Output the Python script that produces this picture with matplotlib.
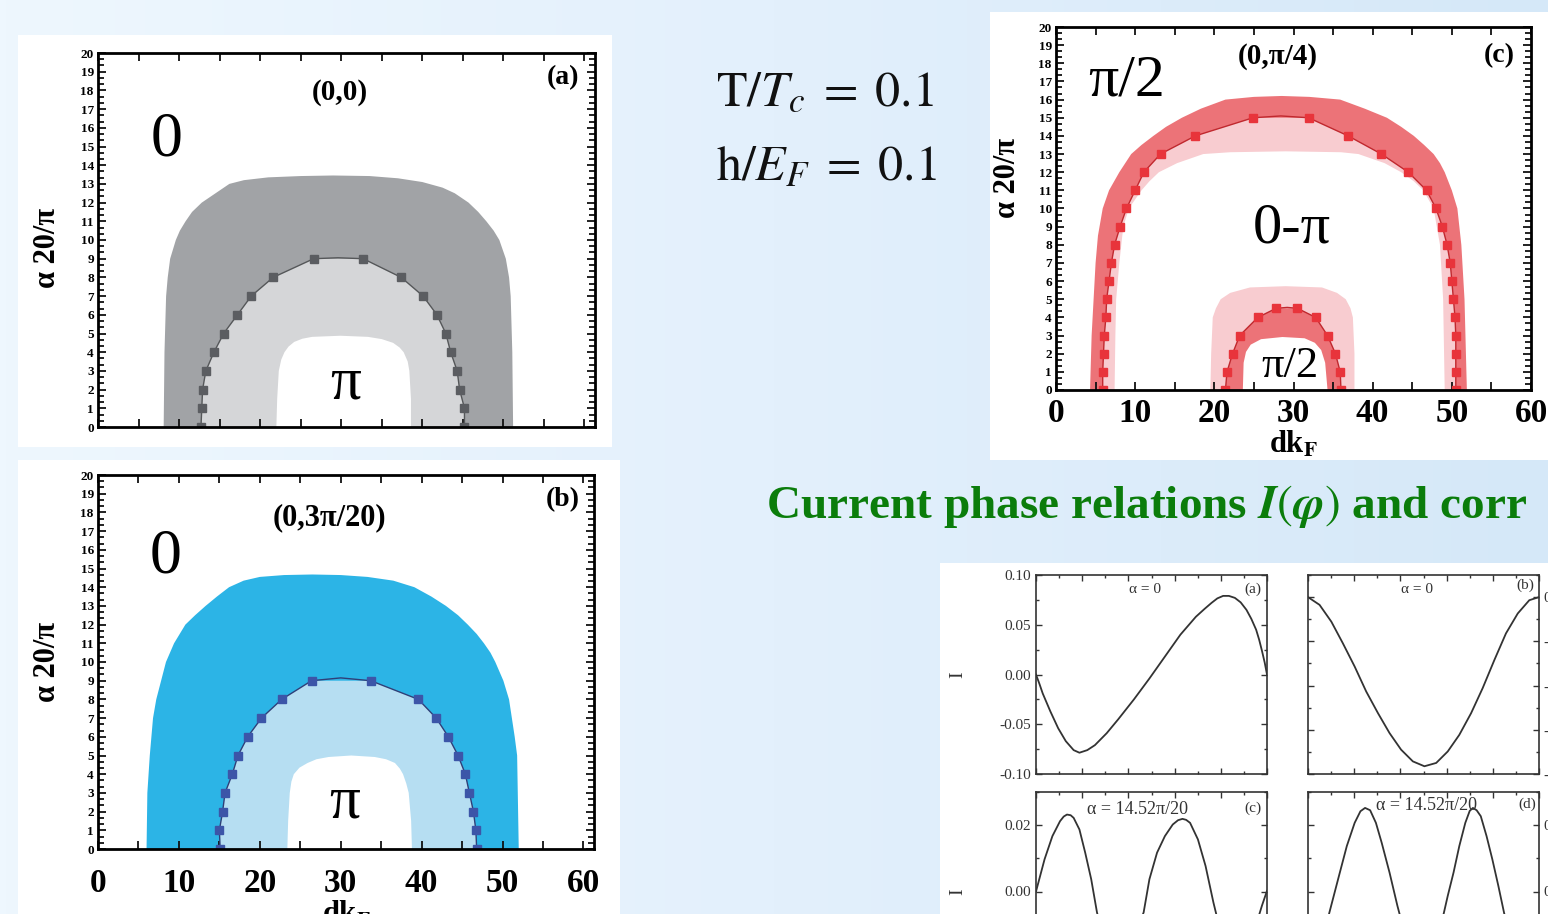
import numpy as np
import matplotlib
matplotlib.use("Agg")
from matplotlib import pyplot as plt
from matplotlib.patches import Rectangle
from matplotlib.colors import LinearSegmentedColormap
from matplotlib.ticker import MultipleLocator, FormatStrFormatter

plt.rcParams['font.family'] = ['Liberation Serif', 'DejaVu Serif']
plt.rcParams['mathtext.fontset'] = 'stix'

W, H = 1548, 914

# ---------------- phase diagram (a): (0,0) ----------------
a_outer_x = [8.1, 8.2, 8.4, 8.6, 8.9, 9.6, 10.1, 10.8, 11.6, 12.8, 14.5, 16.2, 18.0, 21.0, 25.0, 29.0,
             33.5, 37.0, 40.0, 42.5, 44.0, 45.7, 46.9, 47.9, 48.8, 49.5, 50.3, 50.7, 50.9, 51.1, 51.2]
a_outer_y = [0, 4, 7, 8, 9, 10, 10.5, 11, 11.5, 12, 12.5, 13, 13.2, 13.35, 13.42, 13.45,
             13.42, 13.3, 13.1, 12.8, 12.5, 12, 11.5, 11, 10.5, 10, 9, 8, 7, 4, 0]
a_mark_x = [12.7, 12.8, 12.9, 13.3, 14.3, 15.5, 17.2, 18.9, 21.6, 26.6,
            32.7, 37.4, 40.1, 41.8, 42.9, 43.5, 44.3, 44.6, 45.2, 45.2]
a_mark_y = [0, 1, 2, 3, 4, 5, 6, 7, 8, 9, 9, 8, 7, 6, 5, 4, 3, 2, 1, 0]
a_peak = (29.6, 9.05)
a_inner_x = [22.0, 22.1, 22.3, 22.6, 23.0, 23.5, 24.2, 25.2, 26.4, 29.9, 33.3, 35.0, 36.4, 37.2, 37.7, 38.2, 38.4, 38.6, 38.6]
a_inner_y = [0, 1.5, 3, 3.6, 4, 4.3, 4.55, 4.72, 4.82, 4.88, 4.82, 4.7, 4.5, 4.25, 4, 3.5, 3, 1.5, 0]

# ---------------- phase diagram (b): (0,3pi/20) ----------------
b_outer_x = [6.0, 6.1, 6.4, 6.8, 7.2, 7.8, 8.4, 9.4, 10.8, 12.0, 13.3, 14.7, 16.2, 18.0, 20.0, 23.0, 26.5,
             30.0, 33.3, 36.5, 39.1, 41.2, 43.0, 44.5, 45.7, 46.8, 47.7, 48.5, 49.1, 50.1, 50.8, 51.5, 51.8, 52.0]
b_outer_y = [0, 3, 5, 7, 8, 9, 10, 11, 12, 12.5, 13, 13.5, 14, 14.35, 14.55, 14.65, 14.68,
             14.65, 14.55, 14.35, 14, 13.5, 13, 12.5, 12, 11.5, 11, 10.5, 10, 9, 8, 6, 5, 0]
b_mark_x = [15.1, 15.0, 15.4, 15.7, 16.6, 17.3, 18.5, 20.2, 22.7, 26.4,
            33.7, 39.6, 41.8, 43.3, 44.5, 45.4, 45.9, 46.4, 46.7, 46.8]
b_mark_y = [0, 1, 2, 3, 4, 5, 6, 7, 8, 9, 9, 8, 7, 6, 5, 4, 3, 2, 1, 0]
b_peak = (30.0, 9.15)
b_inner_x = [23.4, 23.5, 23.7, 23.9, 24.2, 24.9, 25.9, 27.0, 28.5, 31.3, 34.2, 35.6, 36.7, 37.3, 37.7, 38.1, 38.4, 38.7, 38.8]
b_inner_y = [0, 1.5, 3, 3.6, 4, 4.35, 4.6, 4.8, 4.92, 5.0, 4.92, 4.8, 4.6, 4.3, 4, 3.5, 3, 1.5, 0]

# ---------------- phase diagram (c): (0,pi/4) ----------------
c_outer_x = [4.3, 4.5, 5.0, 5.3, 5.9, 6.7, 8.0, 9.5, 10.8, 12.3, 13.9, 15.9, 18.3, 21.4, 25.0, 28.5,
             32.0, 35.9, 39.0, 41.8, 43.6, 45.2, 46.5, 47.7, 48.5, 49.1, 50.0, 50.7, 51.2, 51.6, 51.9]
c_outer_y = [0, 3, 7, 8.5, 10, 11, 12, 13, 13.5, 14, 14.5, 15, 15.5, 16, 16.15, 16.2,
             16.15, 16, 15.5, 15, 14.5, 14, 13.5, 13, 12.5, 12, 11, 10, 8, 5, 0]
c_mark_x = [5.9, 5.9, 6.0, 6.1, 6.3, 6.4, 6.7, 7.0, 7.4, 8.1, 8.9, 10.0, 11.1, 13.2, 17.6, 24.9,
            31.9, 36.9, 41.1, 44.5, 46.8, 48.0, 48.8, 49.4, 49.8, 50.0, 50.2, 50.4, 50.5, 50.5, 50.5, 50.5]
c_mark_y = [0, 1, 2, 3, 4, 5, 6, 7, 8, 9, 10, 11, 12, 13, 14, 15,
            15, 14, 13, 12, 11, 10, 9, 8, 7, 6, 5, 4, 3, 2, 1, 0]
c_peak = (28.4, 15.1)
c_pink_x = [7.4, 7.5, 7.6, 8.0, 8.5, 9.2, 10.8, 11.8, 13.0, 15.3, 18.6, 22.0, 29.0, 36.0, 38.2, 41.5,
            43.6, 45.2, 46.4, 47.7, 48.5, 48.9, 49.1]
c_pink_y = [0, 3, 5, 7, 9, 10, 11, 11.5, 12, 12.5, 13, 13.1, 13.15, 13.1, 13, 12.5,
            12, 11.5, 11, 10, 8, 5, 0]
c_small_out_x = [19.5, 19.6, 19.8, 20.2, 20.8, 22.0, 24.5, 29.0, 33.6, 35.5, 36.6, 37.2, 37.5, 37.7, 37.7]
c_small_out_y = [0, 2, 4, 4.5, 5, 5.35, 5.65, 5.72, 5.65, 5.35, 5, 4.5, 4, 2, 0]
c_small_mark_x = [21.4, 21.6, 22.3, 23.2, 25.5, 27.8, 30.5, 32.8, 34.3, 35.3, 35.9, 36.0]
c_small_mark_y = [0, 1, 2, 3, 4, 4.5, 4.5, 4, 3, 2, 1, 0]
c_small_peak = (29.2, 4.55)
c_small_in_x = [23.6, 23.7, 24.0, 24.6, 25.9, 28.6, 31.4, 32.7, 33.5, 34.0, 34.3]
c_small_in_y = [0, 1.5, 2.1, 2.5, 2.8, 2.92, 2.85, 2.6, 2.2, 1.5, 0]

# ---------------- current-phase relations (phi in units of 2pi) ----------------
cpr_a_phi = [0, 0.015, 0.029, 0.062, 0.096, 0.129, 0.163, 0.188, 0.222, 0.255, 0.306, 0.356, 0.424,
             0.491, 0.558, 0.625, 0.692, 0.730, 0.760, 0.785, 0.810, 0.835, 0.861, 0.886, 0.911, 0.932,
             0.953, 0.966, 0.978, 0.990, 1.0]
cpr_a_I = [0, -0.0095, -0.019, -0.037, -0.054, -0.067, -0.076, -0.0786, -0.076, -0.071, -0.059, -0.045, -0.025,
           -0.004, 0.018, 0.040, 0.058, 0.066, 0.072, 0.0765, 0.079, 0.079, 0.077, 0.0725, 0.065, 0.056,
           0.045, 0.035, 0.024, 0.012, 0.0]
cpr_b_phi = [0, 0.050, 0.101, 0.151, 0.202, 0.252, 0.303, 0.353, 0.403, 0.454, 0.504,
             0.555, 0.605, 0.655, 0.706, 0.756, 0.807, 0.857, 0.908, 0.958, 1.0]
cpr_b_F = [0.0, -0.0035, -0.0111, -0.0209, -0.0314, -0.0427, -0.0525, -0.0615, -0.0690, -0.0743, -0.0765,
           -0.0750, -0.0698, -0.0623, -0.0525, -0.0412, -0.0284, -0.0164, -0.0074, -0.0014, 0.0]
cpr_c_phi = [0, 0.037, 0.071, 0.104, 0.120, 0.134, 0.150, 0.163, 0.188, 0.213, 0.239, 0.264, 0.289, 0.331, 0.365,
             0.407, 0.440, 0.466, 0.491, 0.524, 0.558, 0.592, 0.615, 0.634, 0.650, 0.667, 0.701, 0.734, 0.768,
             0.802, 0.844, 0.877, 0.919, 0.953, 0.978, 1.0]
cpr_c_I = [0.0, 0.0097, 0.0167, 0.0212, 0.0226, 0.0232, 0.0230, 0.0222, 0.0187, 0.0117, 0.0037, -0.0063, -0.013,
           -0.020, -0.022, -0.018, -0.011, -0.0063, 0.0037, 0.0117, 0.0167, 0.0202, 0.0215, 0.0219, 0.0216,
           0.0207, 0.0157, 0.0077, -0.0033, -0.013, -0.020, -0.022, -0.017, -0.010, -0.0043, 0.0002]
cpr_d_phi = [0, 0.04, 0.07, 0.092, 0.134, 0.168, 0.202, 0.227, 0.247, 0.269, 0.294, 0.319, 0.353, 0.387,
             0.42, 0.46, 0.49, 0.53, 0.57, 0.605, 0.630, 0.655, 0.681, 0.700, 0.714, 0.730, 0.748, 0.773, 0.798,
             0.824, 0.849, 0.88, 0.93, 0.97, 1.0]
cpr_d_F = [-0.022, -0.020, -0.013, -0.0065, 0.0047, 0.0137, 0.0207, 0.0242, 0.0252, 0.0245, 0.0207, 0.0147,
           0.0057, -0.0043, -0.013, -0.021, -0.023, -0.021, -0.012, -0.0013, 0.0057, 0.0137, 0.0207,
           0.0243, 0.0252, 0.0245, 0.0227, 0.0167, 0.0097, 0.0017, -0.0065, -0.014, -0.021, -0.022, -0.020]


def px_axes(fig, left, top, right, bottom):
    return fig.add_axes([left / W, 1 - bottom / H, (right - left) / W, (bottom - top) / H])


def px_box(ax, left, top, right, bottom):
    ax.add_patch(Rectangle((left / W, 1 - bottom / H), (right - left) / W, (bottom - top) / H,
                           facecolor='white', edgecolor='none', zorder=1))


def phase_frame(ax, xmax, xlabels, xpad, ylab_y):
    ax.set_xlim(0, xmax)
    ax.set_ylim(0, 20)
    ax.xaxis.set_major_locator(MultipleLocator(10))
    ax.xaxis.set_minor_locator(MultipleLocator(5))
    ax.yaxis.set_major_locator(MultipleLocator(1))
    ax.yaxis.set_minor_locator(MultipleLocator(1 / 3))
    ax.tick_params(which='both', direction='in', top=True, right=True, width=1.3, color='#111')
    ax.tick_params(which='major', length=6)
    ax.tick_params(axis='y', which='minor', length=4)
    ax.tick_params(axis='x', which='minor', length=6)
    ax.tick_params(axis='y', labelsize=9.5, pad=3)
    ax.tick_params(axis='x', labelsize=24, pad=xpad, labelbottom=xlabels)
    for t in ax.get_yticklabels() + ax.get_xticklabels():
        t.set_fontweight('bold')
    for s in ax.spines.values():
        s.set_linewidth(2)
        s.set_zorder(5)
    ax.set_ylabel('α 20/π', fontsize=22, fontweight='bold')
    ax.yaxis.set_label_coords(-0.072, ylab_y)
    if xlabels:
        ax.set_xlabel(r'dk$_\mathbf{F}$', fontsize=22, fontweight='bold', labelpad=0)


def boundary(ax, mx, my, peak, color, line_color):
    half = len(mx) // 2
    lx = mx[:half] + [peak[0]] + mx[half:]
    ly = my[:half] + [peak[1]] + my[half:]
    ax.plot(lx, ly, color=line_color, lw=1.0, zorder=3)
    ax.plot(mx, my, ls='none', marker='s', ms=5.5, color=color, zorder=4)


def cpr_frame(ax, ylo, yhi, ymaj, ymin, right_labels):
    ax.set_xlim(0, 1)
    ax.set_ylim(ylo, yhi)
    ax.xaxis.set_major_locator(MultipleLocator(0.2))
    ax.xaxis.set_minor_locator(MultipleLocator(0.1))
    ax.yaxis.set_major_locator(MultipleLocator(ymaj))
    ax.yaxis.set_minor_locator(MultipleLocator(ymin))
    ax.yaxis.set_major_formatter(FormatStrFormatter('%.2f'))
    ax.tick_params(which='both', direction='in', top=True, right=True, labelbottom=False,
                   width=1, color='#333', labelsize=11, labelcolor='#333')
    ax.tick_params(which='major', length=4)
    ax.tick_params(which='minor', length=2.5)
    if right_labels:
        ax.tick_params(labelleft=False, labelright=True)
    for s in ax.spines.values():
        s.set_linewidth(1.2)
        s.set_color('#333')


fig = plt.figure(figsize=(W / 100, H / 100), dpi=100)

# slide background with white picture boxes
bg = fig.add_axes([0, 0, 1, 1])
bg.set_xlim(0, 1)
bg.set_ylim(0, 1)
bg.axis('off')
grad = LinearSegmentedColormap.from_list('slide', ['#eef7fe', '#e3f0fc', '#d5e8f8'])
bg.imshow(np.linspace(0, 1, 256)[None, :], aspect='auto', cmap=grad, extent=[0, 1, 0, 1], zorder=0)
px_box(bg, 18, 35, 612, 447)
px_box(bg, 18, 460, 620, 914)
px_box(bg, 990, 12, 1548, 460)
px_box(bg, 940, 563, 1548, 914)

fig.text(716 / W, 1 - 93 / H, r'$\mathrm{T}/T_c\;=\;0.1$', fontsize=36, va='center', ha='left', color='#111')
fig.text(716 / W, 1 - 168 / H, r'$\mathrm{h}/E_F\;=\;0.1$', fontsize=36, va='center', ha='left', color='#111')
fig.text(766 / W, 1 - 506 / H, r'Current phase relations $\mathbfit{I}(\mathbfit{\varphi})$ and corr',
         fontsize=34, fontweight='bold', color='#0b7d0b', va='center', ha='left')

# ---- panel (a)
ax = px_axes(fig, 98, 53, 595, 427)
ax.fill(a_outer_x, a_outer_y, color='#a1a3a6', lw=0)
ax.fill(a_mark_x, a_mark_y, color='#d5d6d8', lw=0)
ax.fill(a_inner_x, a_inner_y, color='white', lw=0)
boundary(ax, a_mark_x, a_mark_y, a_peak, '#5b5d61', '#555759')
phase_frame(ax, 61.3, False, 8, 0.48)
ax.text(8.4, 15.3, '0', fontsize=46, ha='center', va='center')
ax.text(30.5, 2.3, 'π', fontsize=44, ha='center', va='center')
ax.text(29.8, 17.9, '(0,0)', fontsize=21, fontweight='bold', ha='center', va='center')
ax.text(57.4, 18.7, '(a)', fontsize=20, fontweight='bold', ha='center', va='center')

# ---- panel (b)
ax = px_axes(fig, 98, 475, 594, 849)
ax.fill(b_outer_x, b_outer_y, color='#2cb4e6', lw=0)
ax.fill(b_mark_x, b_mark_y, color='#b6def2', lw=0)
ax.fill(b_inner_x, b_inner_y, color='white', lw=0)
boundary(ax, b_mark_x, b_mark_y, b_peak, '#3c55a8', '#2f3f78')
phase_frame(ax, 61.3, True, 14, 0.5)
ax.text(8.4, 15.6, '0', fontsize=46, ha='center', va='center')
ax.text(30.5, 2.5, 'π', fontsize=44, ha='center', va='center')
ax.text(28.6, 17.7, '(0,3π/20)', fontsize=22, fontweight='bold', ha='center', va='center')
ax.text(57.4, 18.7, '(b)', fontsize=20, fontweight='bold', ha='center', va='center')

# ---- panel (c)
ax = px_axes(fig, 1056, 27, 1531, 390)
ax.fill(c_outer_x, c_outer_y, color='#ec7378', lw=0)
ax.fill(c_mark_x, c_mark_y, color='#f8ccd0', lw=0)
ax.fill(c_pink_x, c_pink_y, color='white', lw=0)
ax.fill(c_small_out_x, c_small_out_y, color='#f8ccd0', lw=0)
ax.fill(c_small_mark_x, c_small_mark_y, color='#ec7378', lw=0)
ax.fill(c_small_in_x, c_small_in_y, color='white', lw=0)
boundary(ax, c_mark_x, c_mark_y, c_peak, '#e8343b', '#c0282e')
boundary(ax, c_small_mark_x, c_small_mark_y, c_small_peak, '#e8343b', '#c0282e')
phase_frame(ax, 60, True, 6, 0.584)
ax.text(8.9, 17.0, 'π/2', fontsize=43, ha='center', va='center')
ax.text(29.8, 8.9, '0-π', fontsize=42, ha='center', va='center')
ax.text(29.5, 1.3, 'π/2', fontsize=32, ha='center', va='center')
ax.text(28.0, 18.35, '(0,π/4)', fontsize=21, fontweight='bold', ha='center', va='center')
ax.text(56.0, 18.45, '(c)', fontsize=20, fontweight='bold', ha='center', va='center')

# ---- current-phase relations
ax = px_axes(fig, 1036, 575, 1267, 774)
ax.plot(cpr_a_phi, cpr_a_I, color='#333', lw=1.3)
cpr_frame(ax, -0.10, 0.10, 0.05, 0.025, False)
ax.set_ylabel('I', fontsize=14, color='#333')
ax.yaxis.set_label_coords(-0.30, 0.5)
ax.text(0.47, 0.925, 'α = 0', transform=ax.transAxes, fontsize=11, ha='center', va='center', color='#333')
ax.text(0.94, 0.93, '(a)', transform=ax.transAxes, fontsize=11, ha='center', va='center', color='#333')

ax = px_axes(fig, 1308, 575, 1539, 774)
ax.plot(cpr_b_phi, cpr_b_F, color='#333', lw=1.3)
cpr_frame(ax, -0.08, 0.01, 0.02, 0.01, True)
ax.text(0.47, 0.925, 'α = 0', transform=ax.transAxes, fontsize=11, ha='center', va='center', color='#333')
ax.text(0.94, 0.95, '(b)', transform=ax.transAxes, fontsize=11, ha='center', va='center', color='#333')

ax = px_axes(fig, 1036, 792, 1267, 991)
ax.plot(cpr_c_phi, cpr_c_I, color='#333', lw=1.3)
cpr_frame(ax, -0.03, 0.03, 0.02, 0.01, False)
ax.set_ylabel('I', fontsize=14, color='#333')
ax.yaxis.set_label_coords(-0.30, 0.5)
ax.text(0.44, 0.91, 'α = 14.52π/20', transform=ax.transAxes, fontsize=13, ha='center', va='center', color='#333')
ax.text(0.94, 0.92, '(c)', transform=ax.transAxes, fontsize=11, ha='center', va='center', color='#333')

ax = px_axes(fig, 1308, 792, 1539, 991)
ax.plot(cpr_d_phi, cpr_d_F, color='#333', lw=1.3)
cpr_frame(ax, -0.03, 0.03, 0.02, 0.01, True)
ax.text(0.515, 0.93, 'α = 14.52π/20', transform=ax.transAxes, fontsize=13, ha='center', va='center', color='#333')
ax.text(0.95, 0.94, '(d)', transform=ax.transAxes, fontsize=11, ha='center', va='center', color='#333')

fig.savefig('out.png', dpi=100)
